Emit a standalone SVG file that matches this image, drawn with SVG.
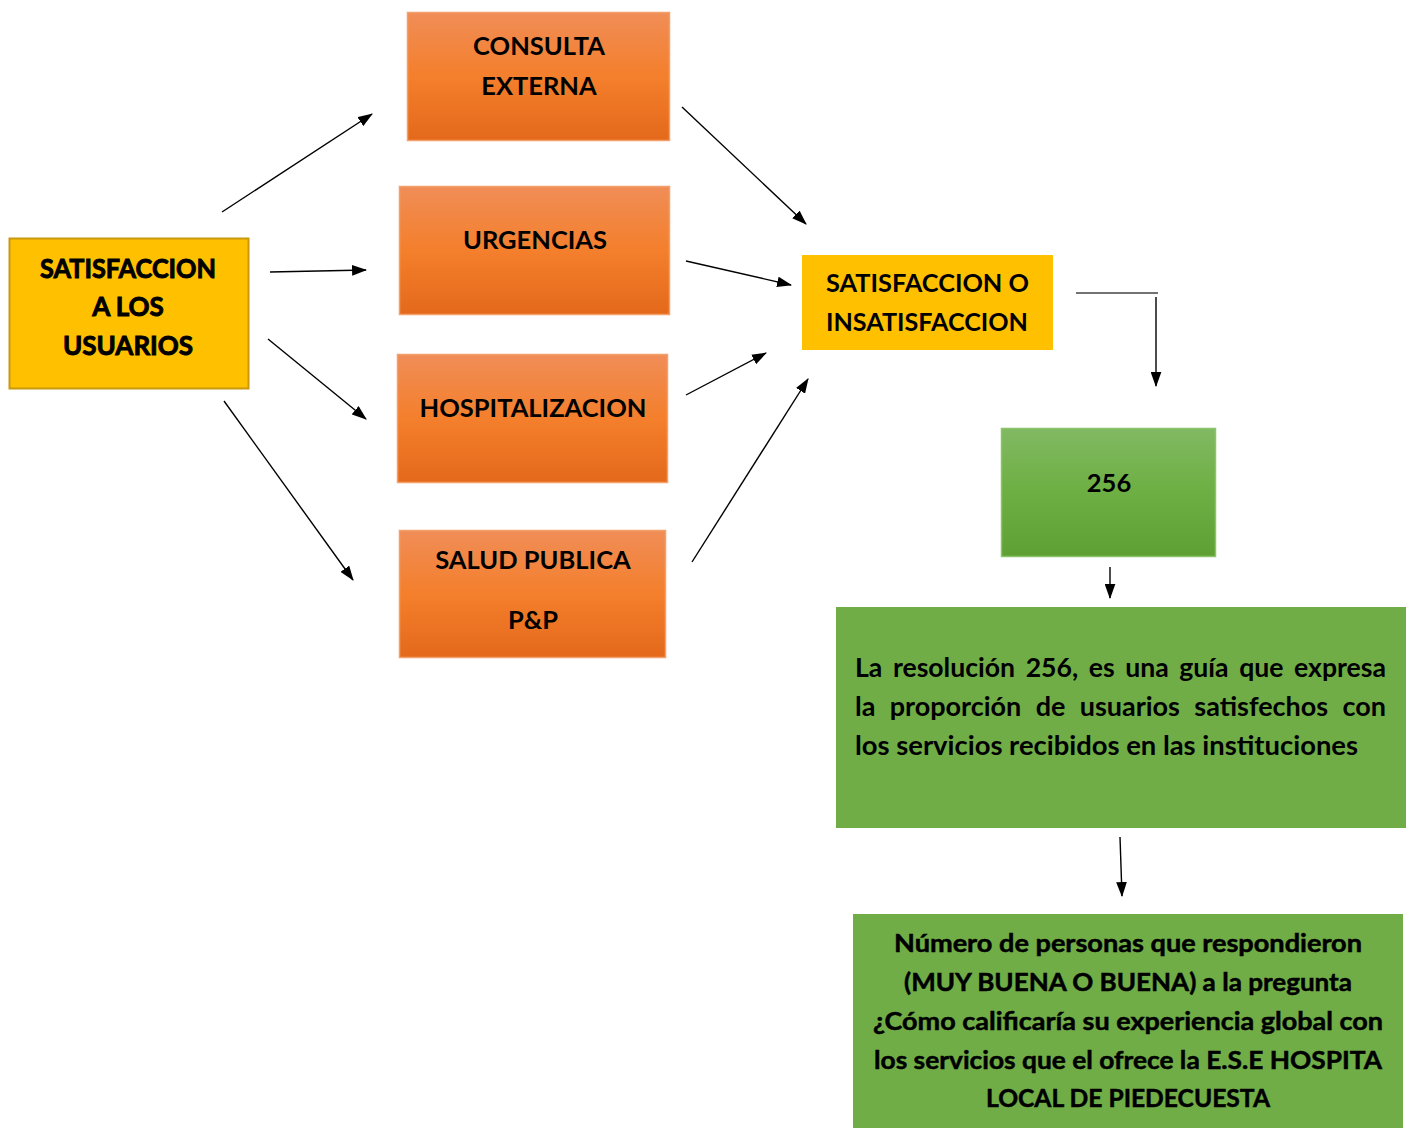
<svg xmlns="http://www.w3.org/2000/svg" width="1409" height="1128" viewBox="0 0 1409 1128">
<defs>
<linearGradient id="gOr" x1="0" y1="0" x2="0" y2="1">
<stop offset="0" stop-color="#F08D57"/>
<stop offset="0.5" stop-color="#F47F2C"/>
<stop offset="1" stop-color="#E4691B"/>
</linearGradient>
<linearGradient id="gGr" x1="0" y1="0" x2="0" y2="1">
<stop offset="0" stop-color="#81B962"/>
<stop offset="0.5" stop-color="#6DAF42"/>
<stop offset="1" stop-color="#5EA033"/>
</linearGradient>
<marker id="ah" viewBox="0 0 14 10" refX="13" refY="5" markerWidth="15" markerHeight="11" markerUnits="userSpaceOnUse" orient="auto">
<path d="M0,0 L14,5 L0,10 Z" fill="#000"/>
</marker>
</defs>
<style>
.t{font-family:Lato,"Open Sans","Liberation Sans",sans-serif;font-weight:bold;fill:#000;}
.or{fill:url(#gOr);stroke:#F3A06B;stroke-width:1.5;}
.c{stroke:#000;stroke-width:1.4;fill:none;marker-end:url(#ah);}
</style>
<rect width="1409" height="1128" fill="#fff"/>

<g id="n-satisfaccion-usuarios">
<rect x="9.5" y="238.5" width="239" height="150" fill="#FFC000" stroke="#C9980F" stroke-width="2"/>
<g class="t" font-size="26" text-anchor="middle" stroke="#000" stroke-width="0.9">
<text x="128" y="278" textLength="176" lengthAdjust="spacingAndGlyphs">SATISFACCION</text>
<text x="128" y="316">A LOS</text>
<text x="128" y="355">USUARIOS</text>
</g>
</g>

<g id="n-consulta">
<rect class="or" x="407.5" y="12.5" width="262" height="128"/>
<text class="t" font-size="25.5" text-anchor="middle" x="539" y="55">CONSULTA</text>
<text class="t" font-size="25.5" text-anchor="middle" x="539" y="95">EXTERNA</text>
</g>

<g id="n-urgencias">
<rect class="or" x="399.5" y="186.5" width="270" height="128"/>
<text class="t" font-size="25.5" text-anchor="middle" x="535" y="249">URGENCIAS</text>
</g>

<g id="n-hospitalizacion">
<rect class="or" x="397.5" y="354.5" width="270" height="128"/>
<text class="t" font-size="25.5" text-anchor="middle" x="533" y="417">HOSPITALIZACION</text>
</g>

<g id="n-salud-publica">
<rect class="or" x="399.5" y="530.5" width="266" height="127"/>
<text class="t" font-size="25.5" text-anchor="middle" x="533" y="569">SALUD PUBLICA</text>
<text class="t" font-size="25.5" text-anchor="middle" x="533" y="629">P&amp;P</text>
</g>

<g id="n-satisfaccion-o">
<rect x="802" y="255" width="251" height="95" fill="#FFC000"/>
<text class="t" font-size="25" x="826" y="292" textLength="203" lengthAdjust="spacingAndGlyphs">SATISFACCION O</text>
<text class="t" font-size="25" x="826" y="331" textLength="202" lengthAdjust="spacingAndGlyphs">INSATISFACCION</text>
</g>

<g id="n-256">
<rect x="1001.5" y="428.5" width="214" height="128" fill="url(#gGr)" stroke="#8CC46C" stroke-width="1.5"/>
<text class="t" font-size="25.5" text-anchor="middle" x="1109" y="492">256</text>
</g>

<g id="n-resolucion">
<rect x="836" y="607" width="570" height="221" fill="#70AD47"/>
<g class="t" font-size="26">
<text x="855" y="677" word-spacing="4" textLength="531" lengthAdjust="spacingAndGlyphs">La resolución 256, es una guía que expresa</text>
<text x="855" y="716" word-spacing="7.5" textLength="531" lengthAdjust="spacingAndGlyphs">la proporción de usuarios satisfechos con</text>
<text x="855" y="755" textLength="503" lengthAdjust="spacingAndGlyphs">los servicios recibidos en las instituciones</text>
</g>
</g>

<g id="n-numero">
<rect x="853" y="914" width="550" height="214" fill="#70AD47"/>
<g class="t" font-size="25" text-anchor="middle" stroke="#000" stroke-width="0.5">
<text x="1128" y="952" textLength="468" lengthAdjust="spacingAndGlyphs">Número de personas que respondieron</text>
<text x="1128" y="991" textLength="448" lengthAdjust="spacingAndGlyphs">(MUY BUENA O BUENA) a la pregunta</text>
<text x="1128" y="1030" textLength="510" lengthAdjust="spacingAndGlyphs">¿Cómo calificaría su experiencia global con</text>
<text x="1128" y="1069" textLength="508" lengthAdjust="spacingAndGlyphs">los servicios que el ofrece la E.S.E HOSPITA</text>
<text x="1128" y="1107" textLength="284" lengthAdjust="spacingAndGlyphs">LOCAL DE PIEDECUESTA</text>
</g>
</g>

<g id="connectors">
<line class="c" x1="222" y1="212" x2="372" y2="114"/>
<line class="c" x1="270" y1="272" x2="366" y2="270"/>
<line class="c" x1="268" y1="339" x2="366" y2="419"/>
<line class="c" x1="224" y1="401" x2="353" y2="580"/>
<line class="c" x1="682" y1="107" x2="806" y2="224"/>
<line class="c" x1="686" y1="261" x2="791" y2="285"/>
<line class="c" x1="686" y1="395" x2="766" y2="353"/>
<line class="c" x1="692" y1="562" x2="808" y2="379"/>
<line x1="1076" y1="293" x2="1158" y2="293" stroke="#444" stroke-width="1.5"/>
<line class="c" x1="1156" y1="297" x2="1156" y2="386" stroke="#444" stroke-width="1.5"/>
<line class="c" x1="1110" y1="567" x2="1110" y2="598"/>
<line class="c" x1="1120" y1="837" x2="1122" y2="896"/>
</g>
</svg>
